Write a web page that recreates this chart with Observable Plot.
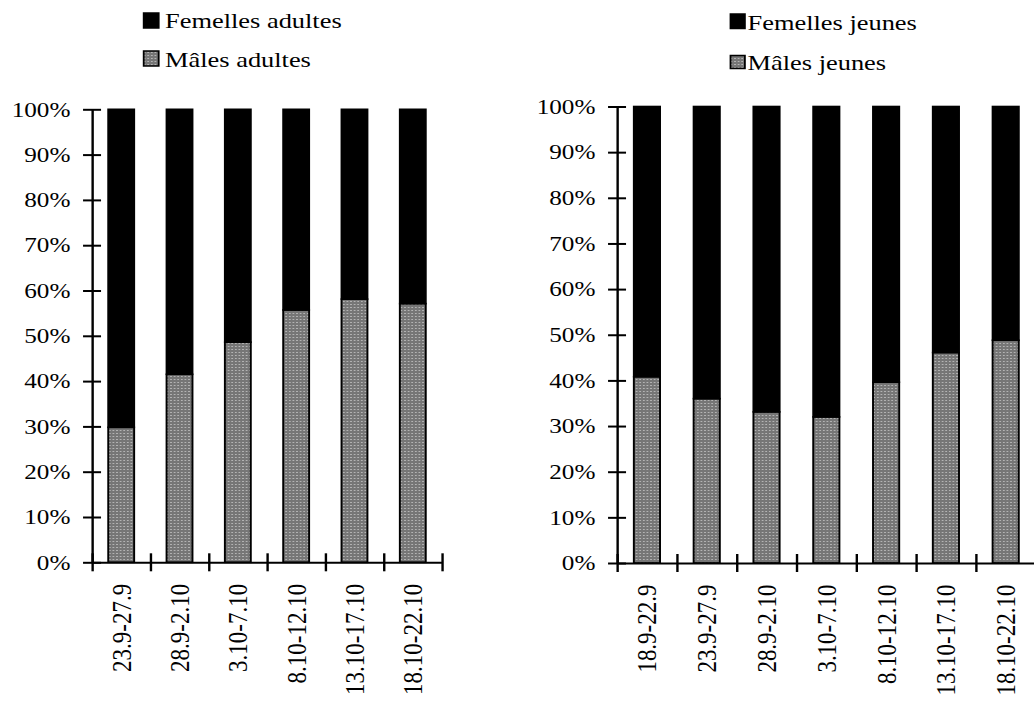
<!DOCTYPE html>
<html>
<head>
<meta charset="utf-8">
<script src="https://cdn.jsdelivr.net/npm/d3@7"></script>
<script src="https://cdn.jsdelivr.net/npm/@observablehq/plot@0.6"></script>
<style>
  html, body { margin: 0; padding: 0; background: #fff; overflow: hidden; }
  #stage { position: absolute; left: 0; top: 0; width: 862px; height: 716px; transform: scaleX(1.2); transform-origin: 0 0; color: #000; font-family: "Liberation Serif", "Times New Roman", serif; }
  #stage > svg, #stage > div { position: absolute; top: 0; }
</style>
</head>
<body>
<svg width="0" height="0" style="position:absolute">
  <defs>
    <pattern id="dots" width="3" height="3" patternUnits="userSpaceOnUse">
      <rect width="3" height="3" fill="#767676"></rect>
      <rect x="1" y="1" width="1" height="1" fill="#d4d4d4"></rect>
    </pattern>
  </defs>
</svg>
<div id="stage"></div>
<script>
// ---- data ----
const leftCategories = ["23.9-27.9", "28.9-2.10", "3.10-7.10", "8.10-12.10", "13.10-17.10", "18.10-22.10"];
const leftMales   = [29.8, 41.5, 48.6, 55.7, 58.1, 57.1];
const leftFemales = [70.2, 58.5, 51.4, 44.3, 41.9, 42.9];
const leftLegend  = ["Femelles adultes", "Mâles adultes"];

const rightCategories = ["18.9-22.9", "23.9-27.9", "28.9-2.10", "3.10-7.10", "8.10-12.10", "13.10-17.10", "18.10-22.10"];
const rightMales   = [40.8, 36.0, 33.1, 32.0, 39.6, 46.1, 48.8];
const rightFemales = [59.2, 64.0, 66.9, 68.0, 60.4, 53.9, 51.2];
const rightLegend  = ["Femelles jeunes", "Mâles jeunes"];

const yTicks = [0, 10, 20, 30, 40, 50, 60, 70, 80, 90, 100];
const sexes = ["m", "f"];
const sexFills = ["url(#dots)", "#000"];

const stage = document.getElementById("stage");

function panel(cats, males, females, cfg) {
  const n = cats.length;
  const rows = cats.flatMap((c, i) => [
    {i, cat: c, sex: "m", v: males[i]},
    {i, cat: c, sex: "f", v: females[i]}
  ]);
  const chart = Plot.plot({
    width: cfg.width,
    height: 716,
    marginLeft: cfg.marginLeft,
    marginRight: cfg.marginRight,
    marginTop: cfg.marginTop,
    marginBottom: cfg.marginBottom,
    x: {domain: [0, n], label: null},
    y: {domain: [0, 100], label: null},
    color: {domain: sexes, range: sexFills},
    style: {fontFamily: "'Liberation Serif', 'Times New Roman', serif", color: "#000", background: "transparent", overflow: "visible"},
    marks: [
      Plot.rectY(rows, Plot.stackY({x: "i", interval: 1, y: "v", fill: "sex", stroke: "#000", strokeWidth: 1.6, insetLeft: cfg.inset, insetRight: cfg.inset})),
      Plot.ruleY([0], {stroke: "#000", strokeWidth: 2}),
      Plot.ruleX([0], {y1: 0, y2: 100, stroke: "#000", strokeWidth: 2}),
      Plot.axisY({ticks: yTicks, label: null, tickSize: 15, dx: 7.5, tickPadding: 11, tickFormat: d => d + "%", fontSize: 21, strokeWidth: 2, stroke: "#000"}),
      Plot.axisX({ticks: d3.range(n + 1), label: null, tickSize: 18, dy: -9, tickFormat: () => "", strokeWidth: 2, stroke: "#000"}),
      Plot.axisX({ticks: d3.range(n).map(i => i + 0.5), label: null, tickSize: 0, tickPadding: 21, tickRotate: -90, fontSize: 23, tickFormat: v => cats[Math.floor(v)]})
    ]
  });
  chart.style.left = cfg.left + "px";
  stage.appendChild(chart);
}

panel(leftCategories, leftMales, leftFemales, {left: 0, width: 400, marginLeft: 76.7, marginRight: 31.7, marginTop: 109.3, marginBottom: 153.7, inset: 13.5});
panel(rightCategories, rightMales, rightFemales, {left: 430, width: 440, marginLeft: 84.2, marginRight: 7, marginTop: 106.5, marginBottom: 153, inset: 14});

// ---- legends ----
function legend(labels, cfg) {
  const svg = d3.create("svg").attr("width", 200).attr("height", 90)
    .style("left", cfg.left + "px").style("overflow", "visible");
  labels.forEach((lab, k) => {
    const row = cfg.rows[k];
    svg.append("rect").attr("x", 0.75).attr("y", row.sy).attr("width", cfg.sw).attr("height", row.sh)
      .attr("fill", k === 0 ? "#000" : "url(#dots)").attr("stroke", "#000").attr("stroke-width", 1.5);
    svg.append("text").attr("x", cfg.tx).attr("y", row.base)
      .attr("font-family", "'Liberation Serif', 'Times New Roman', serif").attr("font-size", 22).attr("fill", "#000")
      .text(lab);
  });
  stage.appendChild(svg.node());
}
legend(leftLegend, {left: 118.9, sw: 12.5, tx: 18.6, rows: [{sy: 13, sh: 15, base: 28.5}, {sy: 51, sh: 15, base: 67.5}]});
legend(rightLegend, {left: 607.5, sw: 12, tx: 15, rows: [{sy: 14, sh: 14.5, base: 30.5}, {sy: 55.5, sh: 13, base: 70.5}]});
</script>
</body>
</html>
